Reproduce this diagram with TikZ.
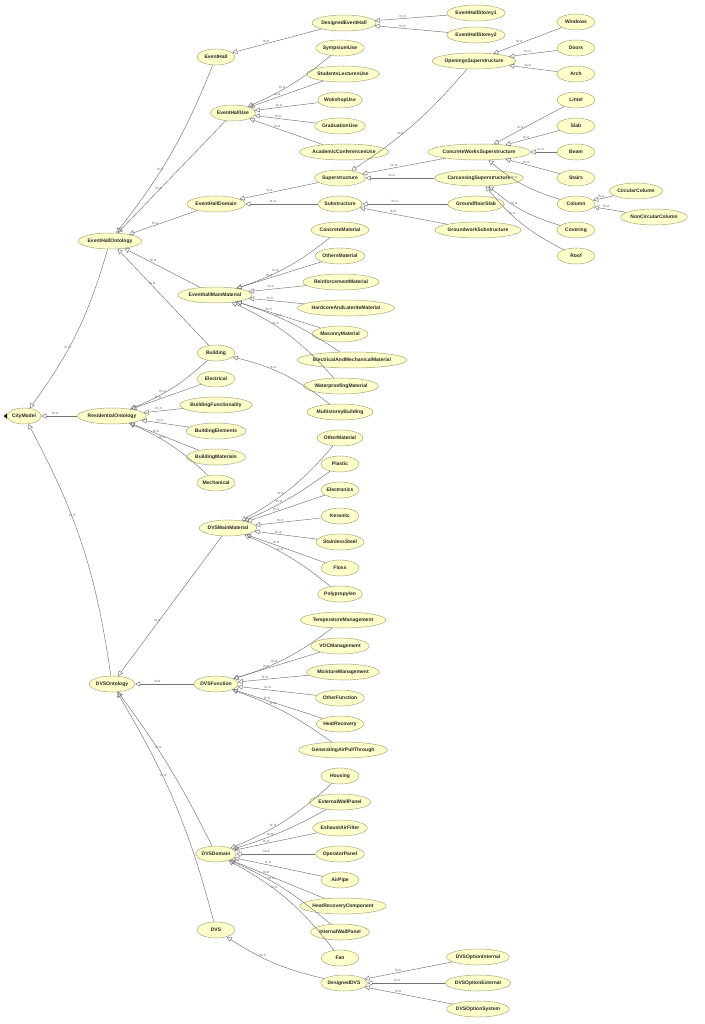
\documentclass[tikz,border=0pt]{standalone}
\usepackage{fontspec}
\setmainfont{Liberation Sans}
\usetikzlibrary{shapes.geometric,arrows.meta}
\definecolor{nodefill}{HTML}{FFFFCC}
\definecolor{nodeline}{HTML}{A8A878}
\tikzset{
  cls/.style={ellipse,draw=nodeline,fill=nodefill,line width=0.5pt,inner xsep=0pt,inner ysep=0pt,minimum height=16pt,minimum width=38pt,font=\fontsize{5}{6}\selectfont\bfseries,text=black!85},
  isaedge/.style={draw=black!55,line width=0.45pt,-{Triangle[open,length=5pt,width=5pt]}},
  isalab/.style={font=\fontsize{3.8}{4}\selectfont,text=black!55,above,pos=0.62,inner sep=1pt}
}
\newcommand{\isa}[3][]{\draw[isaedge] (#2) to[#1] node[isalab]{is-a} (#3);}
\begin{document}
\begin{tikzpicture}[x=1pt,y=-1pt]
\useasboundingbox[fill=white] (0,0) rectangle (704,1024);
\node[cls,minimum width=34pt] (CityModel) at (24,416) {CityModel};
\fill[black] (CityModel.west) ++(0,-2.5) -- ++(-3,2.5) -- ++(3,2.5) -- cycle;
\node[cls] (EHO) at (110,241) {EventHallOntology};
\node[cls] (RO) at (112,416) {ResidentialOntology};
\node[cls] (DVSO) at (112,684) {DVSOntology};
\node[cls] (EventHall) at (216,57) {EventHall};
\node[cls] (EHU) at (233,113) {EventHallUse};
\node[cls] (EHD) at (216,204) {EventHallDomain};
\node[cls] (EMM) at (215,295) {EventhallMainMaterial};
\node[cls] (Building) at (216,353) {Building};
\node[cls] (DEH) at (344,23) {DesignedEventHall};
\node[cls] (EHS1) at (476,13) {EventHallStorey1};
\node[cls] (EHS2) at (476,35) {EventHallStorey2};
\node[cls] (SymU) at (340,48) {SympsiumUse};
\node[cls] (StuU) at (343,74) {StudentsLecturesUse};
\node[cls] (WorU) at (340,100) {WokshopUse};
\node[cls] (GraU) at (340,126) {GraduationUse};
\node[cls] (AcaU) at (344,152) {AcademicConferencesUse};
\node[cls] (Sup) at (340,178) {Superstructure};
\node[cls] (Sub) at (340,204) {Substructure};
\node[cls] (OpS) at (474,61) {OpeningsSuperstructure};
\node[cls] (Windows) at (576,22) {Windows};
\node[cls] (Doors) at (576,48) {Doors};
\node[cls] (Arch) at (576,74) {Arch};
\node[cls] (Lintel) at (576,100) {Lintel};
\node[cls] (Slab) at (576,126) {Slab};
\node[cls] (Beam) at (576,152) {Beam};
\node[cls] (Stairs) at (576,178) {Stairs};
\node[cls] (CWS) at (479,152) {ConcreteWorksSuperstructure};
\node[cls] (CaS) at (479,178) {CarcassingSuperstructure};
\node[cls] (GFS) at (476,204) {GroundfloorSlab};
\node[cls] (GWS) at (478,230) {GroundworkSubstructure};
\node[cls] (Column) at (576,204) {Column};
\node[cls] (CirC) at (636,191) {CircularColumn};
\node[cls] (NCC) at (654,217) {NonCircularColumn};
\node[cls] (Covering) at (576,230) {Covering};
\node[cls] (Roof) at (576,256) {Roof};
\node[cls] (CM) at (340,230) {ConcreteMaterial};
\node[cls] (OM) at (340,256) {OthersMaterial};
\node[cls] (RM) at (341,282) {ReinforcementMaterial};
\node[cls] (HLM) at (346,308) {HardcoreAndLateriteMaterial};
\node[cls] (MM) at (340,334) {MasonryMaterial};
\node[cls] (EMMat) at (352,360) {ElectricalAndMechanicalMaterial};
\node[cls] (WM) at (341,386) {WaterproofingMaterial};
\node[cls] (MB) at (340,412) {MultistoreyBuilding};
\node[cls] (Electrical) at (216,379) {Electrical};
\node[cls] (BF) at (216,405) {BuildingFunctionality};
\node[cls] (BE) at (216,431) {BuildingElements};
\node[cls] (BM) at (216,457) {BuildingMaterials};
\node[cls] (Mech) at (216,483) {Mechanical};
\node[cls] (DMM) at (228,528) {DVSMainMaterial};
\node[cls] (OtM) at (340,438) {OtherMaterial};
\node[cls] (Plastic) at (340,464) {Plastic};
\node[cls] (Elec) at (340,490) {Electronics};
\node[cls] (Ker) at (340,516) {Keramic};
\node[cls] (SS) at (340,542) {StainlessSteel};
\node[cls] (Floss) at (340,568) {Floss};
\node[cls] (Poly) at (340,594) {Polypropylen};
\node[cls] (DF) at (216,684) {DVSFunction};
\node[cls] (TM) at (343,620) {TemperatureManagement};
\node[cls] (VOC) at (340,646) {VOCManagement};
\node[cls] (MoM) at (343,672) {MoistureManagement};
\node[cls] (OF) at (340,698) {OtherFunction};
\node[cls] (HR) at (340,724) {HeatRecovery};
\node[cls] (GAP) at (343,750) {GeneratingAirPullThrough};
\node[cls] (DD) at (216,854) {DVSDomain};
\node[cls] (Housing) at (340,776) {Housing};
\node[cls] (EWP) at (340,802) {ExternalWallPanel};
\node[cls] (EAF) at (340,828) {EshaustAirFilter};
\node[cls] (OP) at (340,854) {OperatorPanel};
\node[cls] (AP) at (340,880) {AirPipe};
\node[cls] (HRC) at (343,906) {HeatRecoveryComponent};
\node[cls] (IWP) at (340,932) {InternalWallPanel};
\node[cls] (Fan) at (340,958) {Fan};
\node[cls] (DVS) at (216,930) {DVS};
\node[cls] (DDVS) at (344,983) {DesignedDVS};
\node[cls] (DOI) at (478,957) {DVSOptionInternal};
\node[cls] (DOE) at (478,983) {DVSOptionExternal};
\node[cls] (DOS) at (478,1009) {DVSOptionSystem};
% edges
\isa[bend left=10]{EHO}{CityModel}
\isa{RO}{CityModel}
\isa[bend right=10]{DVSO}{CityModel}
\isa[bend left=8]{EventHall}{EHO}
\isa{EHU}{EHO}
\isa{EHD}{EHO}
\isa{EMM}{EHO}
\isa{Building}{EHO}
\isa{DEH}{EventHall}
\isa{EHS1}{DEH}
\isa{EHS2}{DEH}
\isa[bend left=8]{SymU}{EHU}
\isa{StuU}{EHU}
\isa{WorU}{EHU}
\isa{GraU}{EHU}
\isa{AcaU}{EHU}
\isa{Sup}{EHD}
\isa{Sub}{EHD}
\isa[bend left=8]{OpS}{Sup}
\isa{CWS}{Sup}
\isa{CaS}{Sup}
\isa{GFS}{Sub}
\isa{GWS}{Sub}
\isa{Windows}{OpS}
\isa{Doors}{OpS}
\isa{Arch}{OpS}
\isa{Lintel}{CWS}
\isa{Slab}{CWS}
\isa{Beam}{CWS}
\isa{Stairs}{CWS}
\isa[bend left=12]{Column}{CWS}
\isa{CirC}{Column}
\isa{NCC}{Column}
\isa[bend left=12]{Covering}{CaS}
\isa[bend left=12]{Roof}{CaS}
\isa[bend left=10]{CM}{EMM}
\isa{OM}{EMM}
\isa{RM}{EMM}
\isa{HLM}{EMM}
\isa{MM}{EMM}
\isa[bend right=8]{EMMat}{EMM}
\isa[bend right=12]{WM}{EMM}
\isa[bend right=12]{MB}{Building}
\isa[bend left=10]{Building}{RO}
\isa{Electrical}{RO}
\isa{BF}{RO}
\isa{BE}{RO}
\isa{BM}{RO}
\isa[bend right=10]{Mech}{RO}
\isa[bend left=10]{OtM}{DMM}
\isa[bend left=6]{Plastic}{DMM}
\isa{Elec}{DMM}
\isa{Ker}{DMM}
\isa{SS}{DMM}
\isa{Floss}{DMM}
\isa[bend right=8]{Poly}{DMM}
\isa{DMM}{DVSO}
\isa{DF}{DVSO}
\isa[bend right=5]{DD}{DVSO}
\isa[bend right=8]{DVS}{DVSO}
\isa[bend left=10]{TM}{DF}
\isa{VOC}{DF}
\isa{MoM}{DF}
\isa{OF}{DF}
\isa{HR}{DF}
\isa[bend right=8]{GAP}{DF}
\isa[bend left=10]{Housing}{DD}
\isa[bend left=6]{EWP}{DD}
\isa{EAF}{DD}
\isa{OP}{DD}
\isa{AP}{DD}
\isa{HRC}{DD}
\isa[bend right=8]{IWP}{DD}
\isa[bend right=12]{Fan}{DD}
\isa[bend left=10]{DDVS}{DVS}
\isa{DOI}{DDVS}
\isa{DOE}{DDVS}
\isa{DOS}{DDVS}
\end{tikzpicture}
\end{document}
